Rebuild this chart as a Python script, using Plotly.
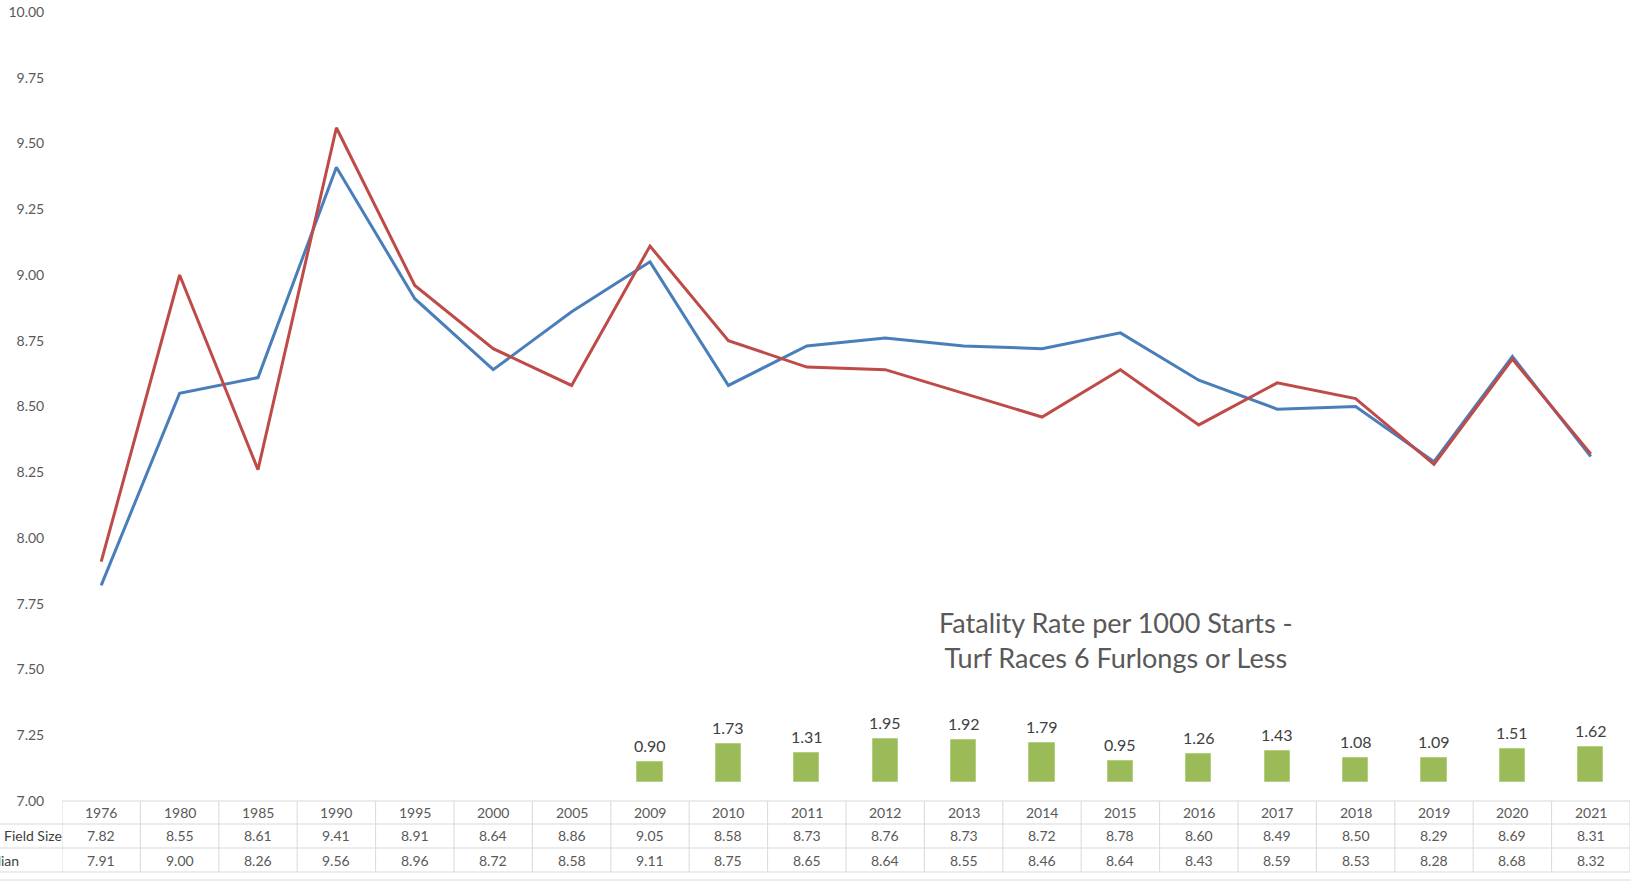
import plotly.graph_objects as go

years = ["1976", "1980", "1985", "1990", "1995", "2000", "2005", "2009", "2010", "2011",
         "2012", "2013", "2014", "2015", "2016", "2017", "2018", "2019", "2020", "2021"]
field_size = [7.82, 8.55, 8.61, 9.41, 8.91, 8.64, 8.86, 9.05, 8.58, 8.73,
              8.76, 8.73, 8.72, 8.78, 8.60, 8.49, 8.50, 8.29, 8.69, 8.31]
median = [7.91, 9.00, 8.26, 9.56, 8.96, 8.72, 8.58, 9.11, 8.75, 8.65,
          8.64, 8.55, 8.46, 8.64, 8.43, 8.59, 8.53, 8.28, 8.68, 8.32]
fatality = [None, None, None, None, None, None, None, 0.90, 1.73, 1.31,
            1.95, 1.92, 1.79, 0.95, 1.26, 1.43, 1.08, 1.09, 1.51, 1.62]
row_labels = ["Field Size", "Median"]
y_ticks = [7.00, 7.25, 7.50, 7.75, 8.00, 8.25, 8.50, 8.75, 9.00, 9.25, 9.50, 9.75, 10.00]

W, H = 1631, 881
L, R, T, B = 62, 1630, 12, 801
PW, PH = R - L, B - T

def px_x(px):
    return (px - L) / PW

def px_y(py):
    return (B - py) / PH

FONT = "Lato"
GRID = "#D9D9D9"
TXT = "#595959"

fig = go.Figure()
fig.add_trace(go.Bar(x=years, y=fatality, yaxis="y2", width=0.32,
                     marker=dict(color="#9BBB59", line=dict(color="#B5CF80", width=1)),
                     hoverinfo="skip"))
fig.add_trace(go.Scatter(x=years, y=field_size, mode="lines", name=row_labels[0],
                         line=dict(color="#4A7EBB", width=3)))
fig.add_trace(go.Scatter(x=years, y=median, mode="lines", name=row_labels[1],
                         line=dict(color="#BE4B48", width=3)))

ann = []
for i, v in enumerate(fatality):
    if v is None:
        continue
    ann.append(dict(x=i, y=v, xref="x", yref="y2", text=f"{v:.2f}", showarrow=False,
                    yanchor="bottom", yshift=5, font=dict(size=16, color="#404040", family=FONT)))

row_centers = [813, 836, 860]
for i, (yr, fs, md) in enumerate(zip(years, field_size, median)):
    for txt, py in zip([yr, f"{fs:.2f}", f"{md:.2f}"], row_centers):
        ann.append(dict(x=i, y=px_y(py), xref="x", yref="paper", text=txt, showarrow=False,
                        yanchor="middle", xanchor="center", font=dict(size=14, color=TXT, family=FONT)))

ann.append(dict(x=px_x(2), y=px_y(836), xref="paper", yref="paper", text=row_labels[0],
                showarrow=False, xanchor="left", yanchor="middle",
                font=dict(size=14, color="#404040", family=FONT)))
ann.append(dict(x=px_x(21), y=px_y(860), xref="paper", yref="paper", text=row_labels[1],
                showarrow=False, xanchor="right", yanchor="middle",
                font=dict(size=14, color="#404040", family=FONT)))

ann.append(dict(x=px_x(1116), y=px_y(639.5), xref="paper", yref="paper",
                text="Fatality Rate per 1000 Starts -<br>Turf Races 6 Furlongs or Less",
                showarrow=False, xanchor="center", yanchor="middle",
                font=dict(size=27, color=TXT, family=FONT)))

shapes = []
line_style = dict(color=GRID, width=1)
shapes.append(dict(type="line", xref="paper", yref="paper", x0=0, x1=1, y0=0, y1=0, line=line_style))
for py in [824, 848, 872]:
    shapes.append(dict(type="line", xref="paper", yref="paper", x0=px_x(0), x1=1,
                       y0=px_y(py), y1=px_y(py), line=line_style))
shapes.append(dict(type="line", xref="paper", yref="paper", x0=px_x(0), x1=px_x(W),
                   y0=px_y(880), y1=px_y(880), line=line_style))
for i in range(len(years) + 1):
    shapes.append(dict(type="line", xref="x", yref="paper", x0=i - 0.5, x1=i - 0.5,
                       y0=0, y1=px_y(872), line=line_style))

# secondary axis: zero at y=782 px, 21.9 px per unit
zero_px, unit_px = 782, 21.9
y2_range = [-(B - zero_px) / unit_px, (zero_px - T) / unit_px]

fig.update_layout(
    width=W, height=H, autosize=False,
    margin=dict(l=L, r=W - R, t=T, b=H - B, pad=0),
    plot_bgcolor="white", paper_bgcolor="white",
    showlegend=False,
    font=dict(family=FONT, color=TXT),
    xaxis=dict(type="category", range=[-0.5, len(years) - 0.5], showticklabels=False,
               showgrid=False, zeroline=False, showline=False, ticks=""),
    yaxis=dict(range=[7.0, 10.0], tickvals=y_ticks, tickformat=".2f",
               showgrid=False, zeroline=False, showline=False,
               ticks="outside", ticklen=14, tickcolor="rgba(0,0,0,0)",
               tickfont=dict(size=14, color=TXT, family=FONT)),
    yaxis2=dict(overlaying="y", range=y2_range, visible=False, showgrid=False, zeroline=False),
    annotations=ann, shapes=shapes,
    bargap=0,
)

fig.write_html("out.html", config={"displayModeBar": False},
               post_script="document.body.style.margin='0';document.body.style.overflow='hidden';")
